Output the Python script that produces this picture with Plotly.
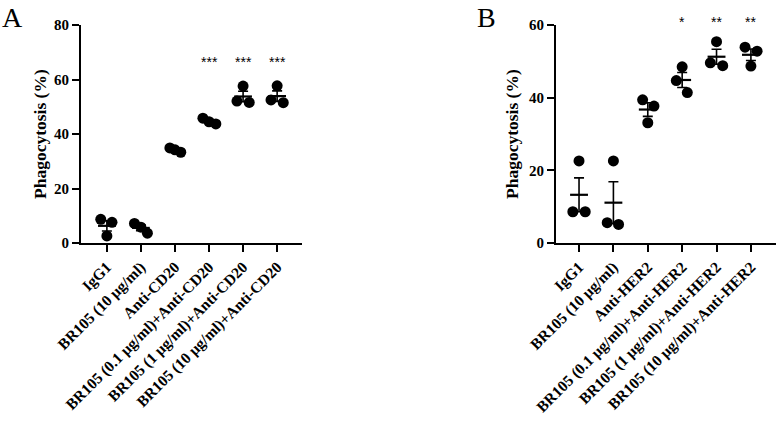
import numpy as np
import plotly.graph_objects as go

W, H = 776, 421

LABELS_A = ["IgG1", "BR105 (10 μg/ml)", "Anti-CD20", "BR105 (0.1 μg/ml)+Anti-CD20",
            "BR105 (1 μg/ml)+Anti-CD20", "BR105 (10 μg/ml)+Anti-CD20"]
LABELS_B = ["IgG1", "BR105 (10 μg/ml)", "Anti-HER2", "BR105 (0.1 μg/ml)+Anti-HER2",
            "BR105 (1 μg/ml)+Anti-HER2", "BR105 (10 μg/ml)+Anti-HER2"]

VALUES_A = [
    [8.7, 7.6, 2.6],
    [7.2, 5.8, 3.6],
    [34.9, 34.2, 33.3],
    [45.8, 44.5, 43.7],
    [57.6, 52.1, 51.6],
    [57.7, 52.5, 51.5],
]
VALUES_B = [
    [22.6, 8.6, 8.6],
    [22.6, 5.6, 5.1],
    [39.4, 37.7, 33.1],
    [48.5, 44.7, 41.4],
    [55.4, 49.6, 48.8],
    [53.9, 52.8, 48.7],
]
STARS_A = ["", "", "", "***", "***", "***"]
STARS_B = ["", "", "", "*", "**", "**"]

# horizontal scatter offsets of the dots (layout only)
JITTER_A = [[-0.18, 0.15, 0], [-0.19, 0, 0.19], [-0.15, 0, 0.17],
            [-0.18, 0, 0.2], [0, -0.18, 0.18], [0, -0.18, 0.18]]
JITTER_B = [[0, -0.18, 0.18], [0, -0.18, 0.15], [-0.15, 0.18, 0],
            [0, -0.17, 0.15], [0, -0.18, 0.18], [-0.17, 0.18, 0]]

SERIF = "Liberation Serif"


def px_x(p):
    return p / W


def px_y(p):
    return 1 - p / H


fig = go.Figure()


def add_panel(values, jitter, stars, xa, ya, star_y, star_shift):
    xs, ys = [], []
    for i, (vals, jit) in enumerate(zip(values, jitter)):
        for v, j in zip(vals, jit):
            xs.append(i + j)
            ys.append(v)
    fig.add_trace(go.Scatter(x=xs, y=ys, mode="markers", xaxis=xa, yaxis=ya,
                             marker=dict(size=11, color="black"), showlegend=False,
                             hoverinfo="skip", cliponaxis=False))
    means = [float(np.mean(v)) for v in values]
    sems = [float(np.std(v, ddof=1) / np.sqrt(len(v))) for v in values]
    fig.add_trace(go.Scatter(x=list(range(len(values))), y=means, mode="markers",
                             xaxis=xa, yaxis=ya, marker=dict(size=1, color="rgba(0,0,0,0)"),
                             error_y=dict(type="data", array=sems, visible=True,
                                          color="black", thickness=1.6, width=5),
                             showlegend=False, hoverinfo="skip"))
    mx, my = [], []
    for i, m in enumerate(means):
        mx += [i - 0.26, i + 0.26, None]
        my += [m, m, None]
    fig.add_trace(go.Scatter(x=mx, y=my, mode="lines", xaxis=xa, yaxis=ya,
                             line=dict(color="black", width=2.2), showlegend=False,
                             hoverinfo="skip"))
    for i, s in enumerate(stars):
        if s:
            fig.add_annotation(x=i, y=star_y, yshift=star_shift, xref=xa, yref=ya, text=s,
                               showarrow=False,
                               font=dict(family="Liberation Sans", size=14, color="black"),
                               xanchor="center", yanchor="middle")


add_panel(VALUES_A, JITTER_A, STARS_A, "x", "y", 66.5, 0)
add_panel(VALUES_B, JITTER_B, STARS_B, "x2", "y2", 58, 10)

axis_common = dict(showline=True, linecolor="black", linewidth=2, ticks="outside",
                   ticklen=7, tickwidth=2, tickcolor="black", showgrid=False, zeroline=False,
                   tickfont=dict(family=SERIF, size=15, color="black"))

xfont = dict(family=SERIF, size=15.5, color="black")

fig.update_layout(
    width=W, height=H, margin=dict(l=0, r=0, t=0, b=0),
    plot_bgcolor="white", paper_bgcolor="white",
    xaxis=dict(axis_common, domain=[px_x(81), px_x(302)], range=[-0.76, 5.73],
               tickvals=list(range(6)), ticktext=["<b>%s</b>" % t for t in LABELS_A],
               tickangle=-45, anchor="y", tickfont=xfont, automargin=False),
    yaxis=dict(axis_common, domain=[px_y(243), px_y(25)], range=[0, 80],
               tickvals=[0, 20, 40, 60, 80], ticktext=["<b>%d</b>" % v for v in [0, 20, 40, 60, 80]],
               anchor="x", automargin=False),
    xaxis2=dict(axis_common, domain=[px_x(556), 1.0], range=[-0.67, 5.73],
                tickvals=list(range(6)), ticktext=["<b>%s</b>" % t for t in LABELS_B],
                tickangle=-45, anchor="y2", tickfont=xfont, automargin=False),
    yaxis2=dict(axis_common, domain=[px_y(243), px_y(25)], range=[0, 60],
                tickvals=[0, 20, 40, 60], ticktext=["<b>%d</b>" % v for v in [0, 20, 40, 60]],
                anchor="x2", automargin=False),
)

ymid = px_y(134)
for xp in (40, 512):
    fig.add_annotation(x=px_x(xp), y=ymid, xref="paper", yref="paper", text="<b>Phagocytosis (%)</b>",
                       textangle=-90, showarrow=False, xanchor="center", yanchor="middle",
                       font=dict(family=SERIF, size=17.5, color="black"))

fig.add_annotation(x=px_x(0), y=px_y(0), xref="paper", yref="paper", text="A", showarrow=False,
                   xanchor="left", yanchor="top", font=dict(family=SERIF, size=28, color="black"))
fig.add_annotation(x=px_x(475), y=px_y(0), xref="paper", yref="paper", text="B", showarrow=False,
                   xanchor="left", yanchor="top", font=dict(family=SERIF, size=28, color="black"))

fig.write_html("out.html", config={"displayModeBar": False},
               post_script="document.body.style.margin='0';document.body.style.overflow='hidden';")
